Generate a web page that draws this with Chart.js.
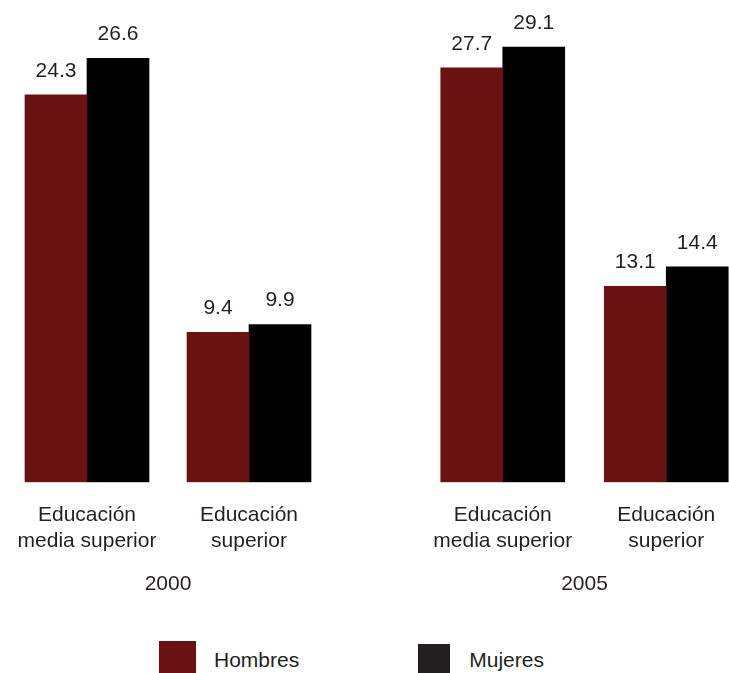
<!DOCTYPE html>
<html>
<head>
<meta charset="utf-8">
<script src="https://cdn.jsdelivr.net/npm/chart.js@4.4.1/dist/chart.umd.min.js"></script>
<style>
    html, body { margin: 0; padding: 0; background: #fff; overflow: hidden; }
    #wrap { position: relative; width: 729px; height: 673px; overflow: hidden; }
    #box2000 { position: absolute; left: 0; top: 0; width: 336px; height: 597px; }
    #box2005 { position: absolute; left: 421px; top: 0; width: 327px; height: 597px; }
    #legend { position: absolute; left: 159px; top: 641px; display: flex; align-items: center;
              font: 21px "Liberation Sans", Arial, sans-serif; color: #231f20; }
    #legend .item { display: flex; align-items: center; margin-right: 119px; }
    #legend .swatch { display: inline-block; width: 37px; height: 37px; margin-right: 18px; }
    #legend .item + .item .swatch { width: 32px; height: 32px; margin-right: 19px; }
</style>
</head>
<body>
<div id="wrap">
    <div id="box2000"><canvas id="chart2000"></canvas></div>
    <div id="box2005"><canvas id="chart2005"></canvas></div>
    <div id="legend"></div>
</div>
<script>
// datos
const categories = [['Educación', 'media superior'], ['Educación', 'superior']];
const seriesNames = ['Hombres', 'Mujeres'];
const hombres2000 = [24.3, 9.4];
const mujeres2000 = [26.6, 9.9];
const hombres2005 = [27.7, 13.1];
const mujeres2005 = [29.1, 14.4];

const FONT = '"Liberation Sans", Arial, sans-serif';
const TEXT = '#231f20';
const colorHombres = '#6a1211';
const colorMujeres = '#000000';

// etiquetas de valor sobre cada barra
const valueLabels = {
    id: 'valueLabels',
    afterDatasetsDraw(chart) {
        const ctx = chart.ctx;
        ctx.save();
        ctx.font = '21px ' + FONT;
        ctx.fillStyle = TEXT;
        ctx.textAlign = 'center';
        ctx.textBaseline = 'alphabetic';
        chart.data.datasets.forEach((ds, i) => {
            chart.getDatasetMeta(i).data.forEach((bar, j) => {
                ctx.fillText(ds.data[j].toFixed(1), bar.x, bar.y - 18);
            });
        });
        ctx.restore();
    }
};

// leyenda en HTML (comun a los dos paneles)
const htmlLegend = {
    id: 'htmlLegend',
    afterUpdate(chart, args, options) {
        const box = document.getElementById(options.containerID);
        box.innerHTML = '';
        const items = chart.options.plugins.legend.labels.generateLabels(chart);
        items.forEach(item => {
            const li = document.createElement('div');
            li.className = 'item';
            const sw = document.createElement('span');
            sw.className = 'swatch';
            sw.style.background = item.fillStyle === '#000000' ? '#231f20' : item.fillStyle;
            const tx = document.createElement('span');
            tx.textContent = item.text;
            li.appendChild(sw);
            li.appendChild(tx);
            box.appendChild(li);
        });
    }
};

function makePanel(canvasId, year, hombres, mujeres, padding, withLegend) {
    const plugins = [valueLabels];
    if (withLegend) plugins.push(htmlLegend);
    return new Chart(document.getElementById(canvasId), {
        type: 'bar',
        data: {
            labels: categories,
            datasets: [
                { label: seriesNames[0], data: hombres, backgroundColor: colorHombres },
                { label: seriesNames[1], data: mujeres, backgroundColor: colorMujeres }
            ]
        },
        options: {
            responsive: true,
            maintainAspectRatio: false,
            animation: false,
            layout: { padding: padding },
            barThickness: 62,
            plugins: {
                legend: { display: false },
                tooltip: { enabled: false },
                htmlLegend: { containerID: 'legend' }
            },
            scales: {
                y: {
                    display: false,
                    min: 0,
                    max: 30
                },
                x: {
                    grid: { display: false, drawTicks: true, tickLength: 20 },
                    border: { display: false },
                    ticks: {
                        padding: 0,
                        color: TEXT,
                        font: { family: FONT, size: 21, lineHeight: 1.25 }
                    },
                    title: {
                        display: true,
                        text: year,
                        color: TEXT,
                        font: { family: FONT, size: 21 },
                        padding: { top: 17, bottom: 0 }
                    }
                }
            }
        },
        plugins: plugins
    });
}

makePanel('chart2000', '2000', hombres2000, mujeres2000, { top: 4, left: 6, right: 6, bottom: 0 }, true);
makePanel('chart2005', '2005', hombres2005, mujeres2005, { top: 33.5, left: 0, right: 0, bottom: 0 }, false);
</script>
</body>
</html>
